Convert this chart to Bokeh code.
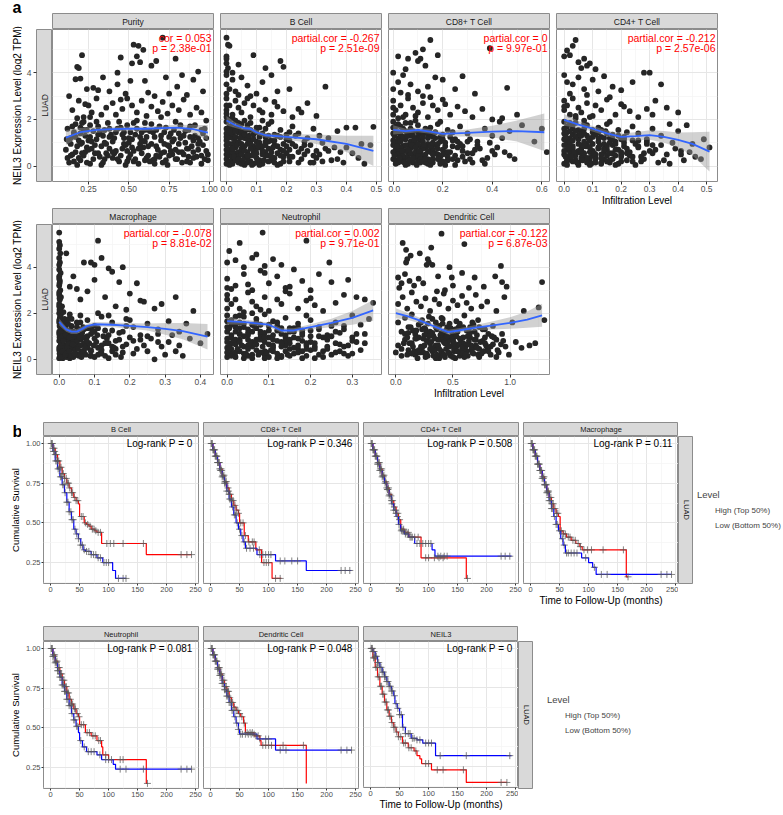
import math
from bokeh.plotting import figure
from bokeh.layouts import row, column
from bokeh.models import (Range1d, LinearAxis, FixedTicker, PrintfTickFormatter,
                          Grid, Legend, LegendItem)
from bokeh.core.properties import value
from bokeh.embed import file_html
from bokeh.resources import INLINE

FONT = "Liberation Sans"
STRIP_FILL = "#d9d9d9"
BORDER = "#8c8c8c"
STRIP_TXT = "#1a1a1a"
RED = "#FF0000"
BLUE = "#0000FF"

Y_TITLE_A = "NEIL3 Expression Level (log2 TPM)"
X_TITLE_A = "Infiltration Level"
Y_TITLE_B = "Cumulative Survival"
X_TITLE_B = "Time to Follow-Up (months)"

# ---------------- part a : scatter points (x, expression) ----------------
PURITY = [(0.71,5.50),(0.53,5.20),(0.56,5.15),(0.59,4.98),(0.21,4.75),(0.55,4.70),(0.45,4.65),(0.79,4.60),(0.67,4.50),(0.52,4.40),(0.57,4.45),(0.64,4.30),(0.18,4.25),(0.19,4.20),(0.93,4.05),
(0.43,4.00),(0.83,3.90),(0.34,3.80),(0.73,3.80),(0.20,3.75),(0.17,3.72),(0.90,3.70),(0.51,3.65),(0.60,3.65),(0.43,3.50),(0.28,3.35),(0.24,3.30),(0.38,3.20),(0.62,3.15),(0.75,3.10),(0.86,3.05),(0.96,3.20),(0.13,3.00),(0.48,3.10),(0.66,3.00),(0.31,3.25),(0.80,3.40),
(0.15,2.40),(0.19,2.80),(0.22,2.10),(0.25,2.60),(0.27,2.30),(0.30,2.90),(0.33,2.20),(0.36,2.50),(0.40,2.70),(0.42,2.20),(0.46,2.45),(0.49,2.90),(0.52,2.60),(0.55,2.30),(0.58,2.80),(0.61,2.15),(0.64,2.55),(0.68,2.35),(0.71,2.75),(0.74,2.25),(0.77,2.60),(0.81,2.40),(0.84,2.85),(0.88,2.20),(0.92,2.50),(0.95,2.30),(0.18,2.05),(0.23,2.65),(0.45,2.85),(0.70,2.10),
(0.12,1.60),(0.14,1.20),(0.17,1.80),(0.20,1.40),(0.22,1.90),(0.25,1.10),(0.28,1.50),(0.31,1.70),(0.34,1.30),(0.37,1.85),(0.40,1.05),(0.43,1.60),(0.46,1.35),(0.49,1.75),(0.52,1.15),(0.55,1.95),(0.58,1.45),(0.61,1.25),(0.64,1.80),(0.67,1.55),(0.70,1.10),(0.73,1.65),(0.76,1.40),(0.79,1.90),(0.82,1.20),(0.85,1.50),(0.88,1.70),(0.91,1.30),(0.94,1.05),(0.98,1.95),(0.16,1.45),(0.21,1.00),(0.26,1.75),(0.50,1.20),(0.60,1.55),
(0.11,0.70),(0.13,0.15),(0.15,0.50),(0.18,0.85),(0.20,0.25),(0.23,0.60),(0.26,0.10),(0.29,0.90),(0.32,0.40),(0.35,0.30),(0.38,0.75),(0.41,0.55),(0.44,0.20),(0.47,0.95),(0.50,0.35),(0.53,0.65),(0.56,0.10),(0.59,0.80),(0.62,0.45),(0.65,0.25),(0.68,0.70),(0.71,0.15),(0.74,0.90),(0.77,0.50),(0.80,0.30),(0.83,0.60),(0.86,0.20),(0.89,0.85),(0.92,0.40),(0.95,0.10),(0.98,0.65),(0.19,0.35),(0.24,0.80),(0.36,0.55),(0.48,0.05),(0.57,0.95),(0.66,0.30),(0.75,0.45),(0.87,0.75),(0.99,0.25),
(0.14,0.95),(0.17,1.25),(0.21,0.55),(0.24,1.55),(0.27,0.75),(0.30,1.15),(0.33,0.85),(0.39,1.35),(0.42,0.65),(0.45,1.65),(0.48,0.90),(0.51,0.50),(0.54,1.35),(0.57,0.75),(0.60,1.05),(0.63,0.20),(0.66,1.25),(0.69,0.40),(0.72,1.45),(0.75,0.85),(0.78,1.15),(0.81,0.60),(0.84,1.30),(0.87,0.40),(0.90,1.10),(0.93,0.70),(0.96,1.40),(0.20,1.65),(0.35,1.55),(0.53,1.85)]
PURITY_B = [(0.12,0.35),(0.13,1.05),(0.15,1.70),(0.16,0.20),(0.17,0.60),(0.19,1.10),(0.21,1.85),(0.22,0.45),(0.23,1.30),(0.25,0.70),(0.26,2.10),(0.27,1.05),(0.28,0.30),(0.30,1.90),(0.31,0.55),(0.32,1.45),(0.34,0.15),(0.35,1.00),(0.37,0.45),(0.38,1.60),(0.40,0.60),(0.41,1.20),(0.43,0.30),(0.44,1.90),(0.46,0.75),(0.47,1.45),(0.49,0.20),(0.50,1.00),(0.52,0.80),(0.54,0.30),(0.55,1.60),(0.57,1.25),(0.58,0.55),(0.60,1.85),(0.61,0.35),(0.63,1.50),(0.64,0.95),(0.66,0.10),(0.67,0.85),(0.69,1.70),(0.70,0.55),(0.72,0.95),(0.73,0.25),(0.75,1.25),(0.76,0.65),(0.78,1.55),(0.79,0.30),(0.81,0.95),(0.82,1.75),(0.84,0.50),(0.85,1.00),(0.87,1.55),(0.88,0.15),(0.90,0.60),(0.91,1.75),(0.93,1.20),(0.95,0.45),(0.96,0.90),(0.97,1.60),(0.99,0.50)]
PURITY_C = [(0.115,1.15),(0.14,0.45),(0.16,1.35),(0.18,0.05),(0.20,0.95),(0.22,1.55),(0.24,0.15),(0.26,1.25),(0.29,0.55),(0.31,1.35),(0.33,0.05),(0.36,0.95),(0.38,1.25),(0.40,0.35),(0.42,1.45),(0.45,0.45),(0.47,1.20),(0.49,0.65),(0.51,1.45),(0.53,0.20),(0.56,0.75),(0.58,1.10),(0.60,0.25),(0.62,0.85),(0.65,1.45),(0.67,0.45),(0.70,1.30),(0.72,0.60),(0.74,0.05),(0.77,1.05),(0.79,0.70),(0.81,1.40),(0.83,0.15),(0.86,0.75),(0.88,1.25),(0.90,0.35),(0.93,0.95),(0.95,1.55),(0.97,0.30),(0.98,1.20)]

BCELL = [(0.000,5.50),(0.005,5.20),(0.010,5.15),(0.000,4.70),(0.040,4.35),(0.090,4.75),(0.130,4.20),(0.180,4.50),(0.020,4.00),(0.000,4.40),(0.005,4.20),(0.000,4.60),(0.000,4.05),(0.190,4.25),
(0.000,3.90),(0.000,3.50),(0.010,3.30),(0.020,3.70),(0.030,3.20),(0.050,3.80),(0.070,3.45),(0.100,3.10),(0.120,3.60),(0.150,3.90),(0.170,3.20),(0.210,3.30),(0.330,3.40),(0.040,3.05),(0.080,3.00),(0.000,3.10),
(0.00,2.90),(0.00,2.40),(0.01,2.60),(0.02,2.20),(0.03,2.80),(0.04,2.50),(0.05,2.30),(0.06,2.70),(0.08,2.10),(0.09,2.60),(0.11,2.40),(0.13,2.85),(0.15,2.20),(0.17,2.55),(0.19,2.35),(0.22,2.10),(0.24,2.45),(0.27,2.70),(0.30,2.15),(0.02,2.05),(0.07,2.90),(0.12,2.30),(0.16,2.75),(0.25,2.30),(0.00,2.10),
(0.00,1.90),(0.00,1.40),(0.01,1.70),(0.02,1.20),(0.03,1.60),(0.04,1.85),(0.05,1.30),(0.06,1.50),(0.07,1.75),(0.08,1.10),(0.10,1.45),(0.11,1.65),(0.13,1.25),(0.14,1.80),(0.16,1.35),(0.18,1.55),(0.20,1.15),(0.22,1.70),(0.24,1.40),(0.26,1.05),(0.29,1.60),(0.31,1.30),(0.34,1.20),(0.37,1.50),(0.40,1.65),(0.43,1.65),(0.49,1.68),(0.00,1.10),(0.03,1.95),(0.09,1.35),(0.15,1.90),(0.21,1.45),
(0.00,0.90),(0.00,0.50),(0.00,0.10),(0.01,0.70),(0.02,0.30),(0.02,0.85),(0.03,0.55),(0.04,0.15),(0.05,0.75),(0.06,0.40),(0.07,0.95),(0.08,0.20),(0.09,0.65),(0.10,0.35),(0.11,0.80),(0.12,0.10),(0.13,0.60),(0.14,0.45),(0.15,0.25),(0.16,0.90),(0.17,0.05),(0.18,0.70),(0.19,0.40),(0.20,0.55),(0.21,0.20),(0.23,0.85),(0.25,0.30),(0.27,0.65),(0.29,0.15),(0.31,0.50),(0.33,0.75),(0.35,0.25),(0.38,0.60),(0.40,0.80),(0.44,0.35),(0.46,0.10),(0.48,0.90),(0.01,0.20),(0.04,0.60),(0.06,0.05),(0.10,0.75),(0.13,0.45),
(0.01,1.35),(0.02,0.95),(0.03,1.05),(0.04,1.45),(0.05,0.65),(0.06,1.20),(0.07,0.35),(0.08,1.55),(0.09,0.85),(0.10,1.05),(0.11,0.25),(0.12,1.40),(0.14,0.75),(0.15,1.10),(0.17,0.55),(0.18,1.25),(0.19,0.95),(0.21,0.70),(0.23,1.30),(0.26,0.50),(0.28,0.90),(0.30,0.35),(0.32,1.00),(0.36,0.80),(0.39,0.15),(0.42,0.55),(0.45,0.95),(0.05,1.80),(0.12,1.95),(0.02,1.55)]
BCELL_B = [(0.00,0.30),(0.00,0.70),(0.00,1.25),(0.00,1.60),(0.00,2.25),(0.00,2.60),(0.01,0.45),(0.01,0.95),(0.01,1.50),(0.01,2.00),(0.02,0.10),(0.02,0.60),(0.02,1.40),(0.02,1.80),(0.03,0.25),(0.03,0.80),(0.03,1.25),(0.04,0.40),(0.04,1.00),(0.04,1.65),(0.05,0.10),(0.05,0.50),(0.05,1.50),(0.06,0.85),(0.06,1.35),(0.06,1.95),(0.07,0.15),(0.07,0.60),(0.07,1.15),(0.08,0.45),(0.08,0.95),(0.08,1.85),(0.09,0.10),(0.09,1.15),(0.10,0.55),(0.10,1.65),(0.11,0.05),(0.11,1.00),(0.12,0.50),(0.12,0.85),(0.13,1.05),(0.13,1.60),(0.14,0.20),(0.14,1.30),(0.15,0.60),(0.16,0.35),(0.16,1.10),(0.17,0.85),(0.18,0.10),(0.19,0.65),(0.20,1.35),(0.21,0.40),(0.22,0.95),(0.24,0.15),(0.25,0.75),(0.27,1.20),(0.29,0.45),(0.32,0.20),(0.34,0.65),(0.37,0.30)]
BCELL_C = [(0.005,0.60),(0.005,1.20),(0.010,0.05),(0.015,1.45),(0.020,0.75),(0.025,0.40),(0.030,1.50),(0.035,0.90),(0.040,0.30),(0.045,1.20),(0.050,0.95),(0.055,0.25),(0.060,0.65),(0.065,1.55),(0.070,0.45),(0.075,1.30),(0.080,0.75),(0.085,0.05),(0.090,0.45),(0.095,1.45),(0.100,0.15),(0.105,0.85),(0.110,1.25),(0.120,0.65),(0.125,0.25),(0.130,0.90),(0.140,1.05),(0.150,0.40),(0.155,0.80),(0.160,0.15),(0.170,1.30),(0.180,0.45),(0.190,0.20),(0.200,0.85),(0.210,1.10),(0.220,0.40),(0.240,0.60),(0.260,0.90),(0.280,0.15),(0.300,0.65)]

CD8 = [(0.15,5.40),(0.12,5.00),(0.39,5.05),(0.09,4.85),(0.18,4.75),(0.02,4.70),(0.06,4.60),(0.11,4.60),(0.10,4.50),(0.13,4.30),(0.05,4.15),
(0.00,4.00),(0.02,3.60),(0.04,3.90),(0.07,3.50),(0.10,3.20),(0.14,3.40),(0.17,3.80),(0.20,3.70),(0.25,3.30),(0.28,3.85),(0.33,3.10),(0.46,3.35),(0.06,3.05),(0.12,3.00),(0.00,3.30),(0.03,3.15),
(0.00,2.80),(0.01,2.40),(0.03,2.60),(0.05,2.20),(0.06,2.90),(0.08,2.50),(0.10,2.30),(0.12,2.70),(0.14,2.10),(0.16,2.60),(0.18,2.40),(0.20,2.85),(0.23,2.20),(0.26,2.55),(0.29,2.35),(0.32,2.10),(0.36,2.45),(0.40,2.00),(0.44,2.05),(0.50,2.20),(0.02,2.05),(0.09,2.15),(0.15,2.95),(0.21,2.65),(0.00,2.20),
(0.00,1.90),(0.00,1.40),(0.01,1.70),(0.02,1.20),(0.04,1.60),(0.05,1.85),(0.07,1.30),(0.08,1.50),(0.10,1.75),(0.11,1.10),(0.13,1.45),(0.15,1.65),(0.16,1.25),(0.18,1.80),(0.20,1.35),(0.22,1.55),(0.25,1.15),(0.27,1.70),(0.30,1.40),(0.34,1.05),(0.37,1.60),(0.40,1.30),(0.43,1.90),(0.47,1.50),(0.52,1.75),(0.57,1.05),(0.60,1.60),(0.03,1.10),(0.09,1.95),(0.14,1.35),(0.19,1.90),(0.24,1.45),
(0.00,0.90),(0.00,0.30),(0.01,0.70),(0.02,0.15),(0.03,0.55),(0.04,0.85),(0.05,0.35),(0.06,0.10),(0.07,0.75),(0.08,0.45),(0.09,0.95),(0.10,0.20),(0.11,0.65),(0.12,0.40),(0.13,0.80),(0.14,0.10),(0.15,0.60),(0.16,0.30),(0.17,0.90),(0.18,0.50),(0.19,0.20),(0.20,0.70),(0.21,0.05),(0.22,0.40),(0.24,0.85),(0.26,0.25),(0.28,0.65),(0.30,0.55),(0.32,0.15),(0.35,0.75),(0.38,0.35),(0.42,0.80),(0.45,0.60),(0.47,0.45),(0.62,0.60),(0.03,0.50),(0.07,0.25),(0.11,0.85),(0.15,0.05),(0.19,0.40),
(0.01,1.05),(0.02,0.65),(0.03,1.35),(0.04,0.25),(0.05,1.15),(0.06,0.55),(0.07,1.60),(0.08,0.85),(0.09,0.35),(0.10,1.25),(0.11,0.50),(0.12,1.45),(0.13,0.15),(0.14,0.95),(0.16,0.70),(0.17,1.20),(0.18,0.30),(0.19,1.05),(0.21,0.60),(0.23,1.25),(0.25,0.45),(0.27,0.95),(0.29,0.20),(0.31,1.15),(0.33,0.70),(0.36,0.25),(0.39,1.00),(0.41,0.50),(0.44,1.20),(0.49,0.30)]
CD8_B = [(0.00,0.60),(0.00,1.10),(0.00,1.65),(0.00,2.50),(0.01,0.25),(0.01,0.95),(0.01,1.45),(0.02,0.50),(0.02,1.00),(0.02,1.80),(0.03,0.20),(0.03,0.80),(0.03,1.70),(0.04,0.45),(0.04,1.25),(0.04,2.10),(0.05,0.05),(0.05,0.65),(0.05,1.50),(0.06,0.35),(0.06,0.90),(0.06,1.30),(0.07,0.55),(0.07,1.05),(0.07,1.85),(0.08,0.15),(0.08,1.30),(0.09,0.60),(0.09,1.15),(0.10,0.45),(0.10,0.95),(0.11,0.30),(0.11,1.40),(0.12,0.75),(0.12,1.05),(0.13,0.50),(0.13,1.60),(0.14,0.30),(0.14,1.20),(0.15,0.85),(0.15,1.40),(0.16,0.15),(0.16,1.00),(0.17,0.55),(0.18,0.95),(0.19,0.10),(0.20,0.50),(0.20,1.15),(0.21,0.85),(0.22,0.25),(0.23,0.60),(0.24,1.10),(0.25,0.05),(0.26,0.80),(0.28,0.40),(0.30,1.05),(0.32,0.55),(0.34,0.90),(0.37,0.10),(0.40,0.65)]
CD8_C = [(0.005,0.45),(0.005,1.30),(0.010,0.10),(0.015,0.85),(0.020,1.45),(0.025,0.35),(0.030,1.05),(0.035,0.65),(0.040,1.55),(0.045,0.15),(0.050,0.90),(0.055,1.30),(0.060,0.70),(0.065,0.25),(0.070,1.45),(0.075,0.90),(0.080,0.35),(0.085,1.15),(0.090,0.80),(0.095,0.05),(0.100,1.45),(0.105,0.65),(0.110,0.15),(0.120,1.25),(0.125,0.90),(0.130,0.30),(0.140,0.65),(0.145,1.50),(0.150,0.25),(0.160,0.50),(0.170,1.45),(0.180,0.75),(0.190,1.25),(0.200,0.20),(0.210,1.00),(0.220,0.60),(0.240,0.30),(0.260,1.05),(0.280,0.85),(0.310,0.30)]

CD4 = [(0.04,5.40),(0.03,5.15),(0.01,4.95),(0.00,4.70),(0.02,4.75),(0.07,4.60),(0.05,4.45),(0.09,4.40),(0.08,4.30),(0.06,4.20),(0.11,4.15),
(0.00,3.90),(0.01,3.60),(0.03,3.50),(0.05,3.80),(0.07,3.30),(0.10,3.70),(0.12,3.20),(0.14,3.85),(0.17,3.40),(0.20,3.25),(0.24,3.60),(0.28,4.00),(0.30,4.00),(0.34,3.50),(0.02,3.10),(0.08,3.05),
(0.00,2.80),(0.00,2.40),(0.01,2.60),(0.02,2.20),(0.03,2.90),(0.05,2.50),(0.06,2.30),(0.08,2.70),(0.09,2.10),(0.11,2.60),(0.13,2.40),(0.15,2.85),(0.18,2.20),(0.21,2.55),(0.23,2.35),(0.26,2.10),(0.29,2.45),(0.32,2.80),(0.36,2.50),(0.40,2.30),(0.04,2.05),(0.10,2.15),(0.16,2.95),(0.20,2.65),(0.31,2.20),
(0.00,1.90),(0.00,1.40),(0.01,1.70),(0.02,1.20),(0.03,1.60),(0.04,1.85),(0.05,1.30),(0.06,1.50),(0.08,1.75),(0.09,1.10),(0.10,1.45),(0.12,1.65),(0.13,1.25),(0.15,1.80),(0.17,1.35),(0.19,1.55),(0.21,1.15),(0.24,1.70),(0.26,1.40),(0.29,1.05),(0.31,1.60),(0.34,1.30),(0.37,1.80),(0.40,1.50),(0.43,1.75),(0.49,1.15),(0.51,0.80),(0.02,1.10),(0.07,1.95),(0.11,1.35),(0.16,1.90),(0.22,1.45),
(0.00,0.90),(0.00,0.50),(0.00,0.10),(0.01,0.70),(0.02,0.30),(0.03,0.85),(0.04,0.55),(0.05,0.15),(0.06,0.75),(0.07,0.40),(0.08,0.95),(0.09,0.20),(0.10,0.65),(0.11,0.35),(0.12,0.80),(0.13,0.10),(0.14,0.60),(0.15,0.45),(0.16,0.25),(0.17,0.90),(0.18,0.05),(0.19,0.70),(0.20,0.40),(0.22,0.55),(0.24,0.20),(0.26,0.85),(0.28,0.30),(0.30,0.65),(0.33,0.15),(0.36,0.50),(0.39,0.75),(0.42,0.25),(0.44,0.60),(0.46,0.40),(0.01,0.20),(0.05,0.60),(0.09,0.05),(0.14,0.75),(0.18,0.45),
(0.01,1.05),(0.02,0.65),(0.03,1.35),(0.04,0.25),(0.05,1.15),(0.06,0.55),(0.07,1.60),(0.08,0.85),(0.09,0.35),(0.10,1.25),(0.11,0.50),(0.12,1.45),(0.13,0.15),(0.14,0.95),(0.15,0.70),(0.16,1.20),(0.17,0.30),(0.18,1.05),(0.20,0.60),(0.21,1.25),(0.23,0.45),(0.25,0.95),(0.27,0.20),(0.29,1.15),(0.32,0.70),(0.35,0.25),(0.38,1.00),(0.41,0.50),(0.45,0.95),(0.48,0.30)]
CD4_B = [(0.00,0.65),(0.00,1.15),(0.00,1.60),(0.00,2.55),(0.01,0.25),(0.01,0.95),(0.01,1.45),(0.02,0.50),(0.02,1.00),(0.02,1.85),(0.03,0.20),(0.03,0.75),(0.03,1.75),(0.04,0.45),(0.04,1.25),(0.04,2.15),(0.05,0.05),(0.05,0.65),(0.05,1.55),(0.06,0.35),(0.06,0.90),(0.06,1.30),(0.07,0.55),(0.07,1.05),(0.07,1.80),(0.08,0.15),(0.08,1.30),(0.09,0.60),(0.09,1.15),(0.10,0.45),(0.10,0.95),(0.11,0.30),(0.11,1.40),(0.12,0.75),(0.12,1.05),(0.13,0.50),(0.13,1.55),(0.14,0.30),(0.14,1.20),(0.15,0.85),(0.15,1.40),(0.16,0.15),(0.16,1.00),(0.17,0.55),(0.18,0.95),(0.19,0.10),(0.20,0.50),(0.20,1.15),(0.21,0.85),(0.22,0.25),(0.23,0.60),(0.24,1.10),(0.25,0.05),(0.26,0.80),(0.27,0.40),(0.29,0.95),(0.31,0.55),(0.34,0.90),(0.37,0.10),(0.41,0.65)]
CD4_C = [(0.005,0.40),(0.005,1.25),(0.010,0.05),(0.015,0.80),(0.020,1.50),(0.025,0.40),(0.030,1.10),(0.035,0.60),(0.040,1.50),(0.045,0.15),(0.050,0.95),(0.055,1.35),(0.060,0.65),(0.065,0.25),(0.070,1.40),(0.075,0.85),(0.080,0.35),(0.085,1.20),(0.090,0.80),(0.095,0.10),(0.100,1.55),(0.105,0.55),(0.110,0.15),(0.120,1.20),(0.125,0.90),(0.130,0.35),(0.140,0.70),(0.145,1.50),(0.150,0.20),(0.160,0.55),(0.170,1.15),(0.180,0.70),(0.190,1.30),(0.200,0.20),(0.210,1.00),(0.220,0.75),(0.240,0.40),(0.260,1.10),(0.280,0.55),(0.310,0.90)]

MACRO = [(0.000,5.50),(0.000,5.10),(0.002,4.95),(0.000,4.80),(0.003,4.60),(0.000,4.40),(0.002,4.20),(0.000,3.90),(0.004,3.75),(0.000,3.60),(0.002,3.40),(0.000,3.20),(0.003,3.00),(0.000,2.80),(0.002,2.60),(0.000,2.40),(0.004,2.20),(0.000,2.00),(0.002,1.80),(0.000,1.60),(0.003,1.40),(0.000,1.20),(0.002,1.00),(0.000,0.80),(0.004,0.60),(0.000,0.40),(0.002,0.20),(0.000,0.05),
(0.11,5.15),(0.02,4.60),(0.07,4.20),(0.09,4.20),(0.10,4.10),(0.12,4.40),(0.14,3.95),(0.15,3.80),(0.18,4.00),(0.04,3.60),(0.03,3.15),(0.05,3.05),(0.17,3.35),(0.22,3.30),(0.10,3.45),(0.08,2.95),(0.06,2.60),(0.13,2.70),(0.20,2.85),(0.23,2.55),(0.24,2.50),(0.29,2.40),(0.33,2.70),(0.38,2.10),(0.27,2.20),(0.16,2.30),(0.19,2.15),(0.11,2.00),
(0.02,1.50),(0.03,1.80),(0.04,1.20),(0.05,1.60),(0.06,1.90),(0.07,1.30),(0.08,1.70),(0.09,1.10),(0.10,1.45),(0.12,1.85),(0.13,1.25),(0.15,1.60),(0.17,1.15),(0.19,1.75),(0.21,1.40),(0.23,1.05),(0.25,1.55),(0.28,1.30),(0.31,1.65),(0.34,1.20),(0.36,1.55),(0.42,1.10),(0.03,1.95),(0.06,1.05),(0.09,1.35),(0.14,1.90),(0.20,1.70),
(0.01,0.90),(0.01,0.30),(0.02,0.60),(0.02,0.10),(0.03,0.75),(0.04,0.45),(0.05,0.20),(0.06,0.85),(0.07,0.35),(0.08,0.60),(0.09,0.15),(0.10,0.90),(0.11,0.50),(0.12,0.25),(0.13,0.70),(0.14,0.05),(0.15,0.55),(0.16,0.80),(0.18,0.30),(0.20,0.95),(0.22,0.45),(0.24,0.60),(0.26,0.90),(0.27,0.00),(0.29,0.55),(0.31,0.75),(0.33,0.35),(0.35,0.15),(0.40,0.70),(0.03,0.05),(0.05,0.95),(0.08,0.50),(0.11,0.20),(0.15,0.35),(0.19,0.65),
(0.005,1.50),(0.006,0.90),(0.008,2.30),(0.005,0.30),(0.010,1.25),(0.010,0.65),(0.015,1.75),(0.020,0.85),(0.025,1.10),(0.030,0.40),(0.035,1.45),(0.040,0.80),(0.045,1.00),(0.050,0.55),(0.055,1.30),(0.060,0.25),(0.065,1.15),(0.070,0.70),(0.080,1.00),(0.090,0.40),(0.100,1.20),(0.120,0.60),(0.140,1.05),(0.160,0.45),(0.180,1.20),(0.210,0.80),(0.250,1.00),(0.280,0.75),(0.320,1.05),(0.370,0.90)]
MACRO_B = [(0.000,0.50),(0.000,1.10),(0.000,1.70),(0.000,2.30),(0.000,2.90),(0.000,3.50),(0.000,4.10),(0.005,0.15),(0.005,0.75),(0.005,1.35),(0.005,1.95),(0.005,2.70),(0.008,0.40),(0.008,1.05),(0.010,1.60),(0.010,0.05),(0.012,2.05),(0.015,0.55),(0.015,1.15),(0.020,0.30),(0.020,1.30),(0.025,0.65),(0.025,1.55),(0.030,0.20),(0.030,1.00),(0.035,0.55),(0.035,1.75),(0.040,0.10),(0.040,1.00),(0.045,0.40),(0.050,0.75),(0.050,1.40),(0.055,0.15),(0.060,0.60),(0.060,1.60),(0.065,0.35),(0.070,0.95),(0.075,0.20),(0.080,1.35),(0.085,0.70),(0.090,0.35),(0.095,1.20),(0.100,0.10),(0.105,0.75),(0.110,1.35),(0.120,0.40),(0.125,1.00),(0.130,0.15),(0.140,0.70),(0.150,1.25),(0.160,0.20),(0.170,0.85),(0.180,0.55),(0.190,1.45),(0.210,0.25),(0.230,0.85),(0.250,0.35),(0.280,1.10),(0.300,0.20),(0.340,0.60)]
MACRO_C = [(0.001,0.25),(0.001,0.95),(0.001,1.45),(0.001,2.15),(0.001,2.65),(0.001,3.30),(0.003,0.55),(0.003,1.15),(0.003,1.85),(0.006,0.10),(0.006,0.70),(0.006,1.40),(0.009,0.35),(0.009,1.00),(0.012,0.80),(0.012,1.45),(0.018,0.20),(0.018,1.05),(0.022,0.50),(0.022,1.70),(0.028,0.35),(0.028,0.95),(0.033,0.15),(0.033,1.25),(0.038,0.65),(0.043,0.25),(0.048,1.10),(0.053,0.45),(0.058,0.95),(0.063,0.10),(0.068,1.40),(0.073,0.50),(0.078,0.80),(0.088,0.15),(0.098,0.60),(0.108,1.05),(0.118,0.30),(0.135,0.90),(0.155,0.50),(0.175,0.10)]

NEUT = [(0.085,5.50),(0.19,5.15),(0.005,4.70),(0.03,5.05),(0.02,4.30),(0.06,4.40),(0.07,4.55),(0.11,4.35),(0.13,4.10),(0.245,4.20),(0.00,4.20),(0.04,4.00),(0.09,4.05),
(0.00,3.50),(0.02,3.20),(0.04,3.70),(0.06,3.00),(0.08,3.85),(0.10,3.30),(0.12,3.60),(0.14,3.10),(0.16,3.90),(0.18,3.40),(0.20,3.00),(0.22,3.70),(0.25,3.35),(0.29,3.45),(0.01,3.05),(0.05,3.25),(0.09,3.75),(0.15,3.15),
(0.00,2.80),(0.01,2.40),(0.02,2.60),(0.03,2.20),(0.05,2.90),(0.06,2.50),(0.07,2.30),(0.09,2.70),(0.10,2.10),(0.12,2.60),(0.13,2.40),(0.15,2.85),(0.17,2.20),(0.19,2.55),(0.21,2.35),(0.23,2.10),(0.26,2.45),(0.28,2.80),(0.31,2.70),(0.33,2.60),(0.04,2.05),(0.08,2.15),(0.14,2.95),(0.20,2.65),(0.35,2.45),
(0.00,1.90),(0.00,1.40),(0.01,1.70),(0.02,1.20),(0.03,1.60),(0.04,1.85),(0.05,1.30),(0.06,1.50),(0.07,1.75),(0.08,1.10),(0.10,1.45),(0.11,1.65),(0.12,1.25),(0.14,1.80),(0.15,1.35),(0.17,1.55),(0.18,1.15),(0.20,1.70),(0.22,1.40),(0.24,1.05),(0.26,1.60),(0.28,1.30),(0.30,1.90),(0.32,1.50),(0.34,1.75),(0.03,1.10),(0.09,1.95),(0.13,1.35),(0.19,1.90),(0.25,1.45),
(0.00,0.90),(0.00,0.50),(0.00,0.10),(0.01,0.70),(0.02,0.30),(0.03,0.85),(0.04,0.55),(0.05,0.15),(0.06,0.75),(0.07,0.40),(0.08,0.95),(0.09,0.20),(0.10,0.65),(0.11,0.35),(0.12,0.80),(0.13,0.10),(0.14,0.60),(0.15,0.45),(0.16,0.25),(0.17,0.90),(0.18,0.05),(0.19,0.70),(0.20,0.40),(0.21,0.55),(0.22,0.20),(0.24,0.85),(0.26,0.30),(0.27,0.65),(0.29,0.15),(0.31,0.75),(0.01,0.25),(0.05,0.60),(0.09,0.05),(0.13,0.75),(0.17,0.45),(0.23,0.35),
(0.01,1.05),(0.02,0.65),(0.03,1.35),(0.04,0.25),(0.05,1.15),(0.06,0.55),(0.07,1.60),(0.08,0.85),(0.09,0.35),(0.10,1.25),(0.11,0.50),(0.12,1.45),(0.13,0.15),(0.14,0.95),(0.15,0.70),(0.16,1.20),(0.17,0.30),(0.18,1.05),(0.19,0.60),(0.20,1.25),(0.21,0.45),(0.23,0.95),(0.25,0.20),(0.27,1.15),(0.28,0.55),(0.30,0.95),(0.32,0.40),(0.33,1.10),(0.02,1.85),(0.06,2.00)]
NEUT_B = [(0.00,0.30),(0.00,0.75),(0.00,1.20),(0.00,1.65),(0.00,2.20),(0.00,2.60),(0.00,3.10),(0.01,0.45),(0.01,0.95),(0.01,1.50),(0.02,0.10),(0.02,0.85),(0.02,1.40),(0.03,0.35),(0.03,0.75),(0.03,1.90),(0.04,0.05),(0.04,1.00),(0.04,1.55),(0.05,0.45),(0.05,0.85),(0.06,0.20),(0.06,1.20),(0.07,0.65),(0.07,1.35),(0.08,0.30),(0.08,1.50),(0.09,0.75),(0.09,1.15),(0.10,0.10),(0.10,0.95),(0.11,0.60),(0.11,1.05),(0.12,0.25),(0.12,1.60),(0.13,0.55),(0.13,1.10),(0.14,0.35),(0.14,0.80),(0.15,0.15),(0.15,1.20),(0.16,0.50),(0.16,0.95),(0.17,1.40),(0.18,0.35),(0.18,0.80),(0.19,0.15),(0.20,1.00),(0.21,0.70),(0.22,1.30),(0.23,0.10),(0.24,0.55),(0.25,1.00),(0.26,0.70),(0.27,0.35),(0.28,1.45),(0.29,0.60),(0.30,0.25),(0.31,1.10),(0.33,0.70)]
NEUT_C = [(0.005,0.55),(0.005,1.35),(0.010,0.15),(0.015,0.85),(0.020,1.55),(0.025,0.45),(0.030,1.10),(0.035,0.60),(0.040,1.40),(0.045,0.25),(0.050,1.05),(0.055,0.70),(0.060,0.05),(0.065,1.45),(0.070,0.85),(0.075,0.20),(0.080,1.20),(0.085,0.55),(0.090,0.95),(0.095,0.30),(0.100,1.50),(0.105,0.40),(0.110,0.85),(0.120,0.05),(0.125,1.30),(0.130,0.70),(0.140,1.05),(0.145,0.20),(0.150,0.85),(0.160,1.35),(0.170,0.60),(0.180,1.25),(0.190,0.45),(0.200,0.75),(0.210,0.05),(0.220,1.00),(0.240,0.45),(0.260,1.20),(0.280,0.25),(0.300,0.80)]

DEND = [(0.40,5.45),(0.06,5.05),(0.60,5.00),(0.31,4.85),(0.09,4.75),(0.13,4.50),(0.21,4.60),(0.10,4.35),(0.28,4.35),(0.27,4.10),(0.29,4.20),(0.32,4.10),(0.47,4.00),(0.92,4.05),(0.09,4.20),
(0.02,3.55),(0.05,3.30),(0.08,3.70),(0.12,3.40),(0.16,3.20),(0.20,3.50),(0.24,3.30),(0.37,3.60),(0.49,3.55),(0.50,3.20),(0.58,3.75),(0.69,3.55),(0.77,3.15),(0.87,3.60),(0.93,3.35),(1.28,3.35),(0.03,3.10),(0.43,3.00),(0.64,3.10),(0.97,3.15),
(0.02,2.40),(0.06,2.70),(0.10,2.20),(0.14,2.90),(0.18,2.50),(0.22,2.30),(0.26,2.65),(0.30,2.10),(0.34,2.60),(0.38,2.40),(0.42,2.85),(0.46,2.20),(0.50,2.55),(0.54,2.35),(0.58,2.75),(0.62,2.45),(0.66,2.20),(0.70,2.80),(0.75,2.30),(0.80,2.50),(0.88,2.10),(0.95,2.70),(1.12,2.10),(1.25,2.25),(0.36,2.95),
(0.02,1.60),(0.05,1.20),(0.08,1.80),(0.11,1.40),(0.14,1.95),(0.17,1.10),(0.20,1.50),(0.23,1.70),(0.26,1.30),(0.29,1.85),(0.32,1.15),(0.35,1.60),(0.38,1.45),(0.41,1.75),(0.44,1.25),(0.47,1.55),(0.50,1.05),(0.53,1.65),(0.56,1.35),(0.60,1.90),(0.64,1.20),(0.68,1.50),(0.72,1.70),(0.78,1.30),(0.85,1.45),(0.93,1.10),(1.02,1.60),(1.30,1.70),(0.15,1.25),(0.25,1.05),(0.40,1.80),(0.55,1.40),
(0.00,0.30),(0.02,0.60),(0.05,0.15),(0.08,0.85),(0.11,0.40),(0.14,0.70),(0.17,0.20),(0.20,0.95),(0.23,0.50),(0.26,0.10),(0.29,0.75),(0.32,0.35),(0.35,0.60),(0.38,0.05),(0.41,0.90),(0.44,0.45),(0.47,0.25),(0.50,0.80),(0.53,0.55),(0.56,0.15),(0.59,0.70),(0.62,0.35),(0.65,0.95),(0.68,0.50),(0.72,0.20),(0.76,0.80),(0.80,0.40),(0.85,0.65),(0.90,0.30),(0.96,0.55),(1.05,0.75),(1.17,0.60),(1.22,0.70),(0.30,0.45),(0.40,0.20),(0.50,0.65),(0.60,0.10),(0.70,0.85),
(0.10,0.95),(0.15,0.55),(0.18,1.25),(0.21,0.30),(0.24,0.90),(0.27,1.15),(0.30,0.70),(0.33,1.00),(0.36,0.20),(0.39,0.85),(0.42,1.10),(0.45,0.65),(0.48,0.95),(0.51,0.35),(0.54,1.20),(0.57,0.75),(0.60,0.45),(0.63,1.00),(0.66,0.60),(0.69,1.20),(0.73,0.45),(0.78,0.95),(0.83,0.20),(0.88,0.85),(0.28,1.55),(0.34,0.40),(0.46,0.80),(0.52,1.30),(0.58,0.25),(0.65,1.40)]
DEND_B = [(0.05,0.45),(0.08,1.10),(0.10,0.20),(0.12,0.70),(0.13,1.40),(0.16,0.35),(0.18,0.90),(0.19,0.05),(0.22,0.55),(0.22,1.60),(0.24,0.30),(0.25,1.35),(0.27,0.80),(0.28,0.15),(0.30,1.20),(0.31,0.50),(0.32,1.75),(0.34,0.90),(0.35,0.05),(0.36,1.30),(0.37,0.60),(0.39,1.05),(0.40,0.35),(0.41,1.55),(0.42,0.75),(0.43,0.10),(0.44,0.95),(0.45,1.40),(0.47,0.55),(0.48,0.15),(0.49,1.20),(0.50,0.85),(0.51,0.45),(0.52,0.05),(0.53,1.00),(0.55,0.65),(0.56,1.55),(0.57,0.30),(0.59,0.95),(0.61,0.55),(0.62,1.25),(0.63,0.15),(0.64,0.80),(0.66,0.40),(0.67,1.60),(0.68,0.25),(0.70,0.60),(0.71,1.05),(0.73,0.10),(0.74,0.75),(0.76,1.30),(0.77,0.35),(0.79,0.60),(0.81,1.10),(0.83,0.55),(0.86,0.95),(0.89,0.40),(0.94,0.80),(0.99,0.20),(1.10,0.50)]
DEND_C = [(0.07,0.70),(0.11,1.15),(0.14,0.25),(0.17,0.90),(0.20,0.40),(0.23,1.30),(0.25,0.60),(0.27,0.25),(0.29,1.00),(0.31,0.75),(0.33,0.15),(0.35,1.40),(0.37,0.85),(0.38,0.45),(0.40,1.15),(0.42,0.20),(0.43,0.70),(0.45,1.00),(0.46,0.30),(0.48,1.35),(0.50,0.10),(0.51,0.70),(0.53,1.30),(0.54,0.35),(0.56,0.90),(0.58,0.50),(0.59,1.40),(0.61,0.20),(0.63,0.65),(0.65,1.15),(0.67,0.30),(0.69,0.85),(0.71,0.50),(0.73,1.40),(0.75,0.25),(0.78,0.70),(0.81,0.35),(0.84,1.00),(0.88,0.10),(0.92,0.65)]

# loess fits: (x, fit, standard error)
PURITY_FIT = [(0.11,1.22,0.32),(0.20,1.45,0.18),(0.30,1.55,0.12),(0.40,1.58,0.11),(0.50,1.60,0.10),(0.60,1.60,0.10),(0.70,1.63,0.10),(0.80,1.65,0.12),(0.90,1.58,0.18),(0.99,1.43,0.33)]
BCELL_FIT = [(0.00,1.95,0.20),(0.03,1.75,0.12),(0.06,1.62,0.10),(0.08,1.60,0.10),(0.10,1.45,0.10),(0.13,1.32,0.10),(0.20,1.25,0.12),(0.30,1.15,0.20),(0.40,0.95,0.35),(0.49,0.65,0.65)]
CD8_FIT = [(0.00,1.55,0.20),(0.05,1.50,0.10),(0.10,1.55,0.10),(0.15,1.48,0.10),(0.20,1.38,0.12),(0.30,1.42,0.15),(0.40,1.48,0.25),(0.50,1.50,0.45),(0.61,1.45,0.80)]
CD4_FIT = [(0.00,1.98,0.25),(0.05,1.78,0.15),(0.10,1.60,0.12),(0.15,1.40,0.12),(0.20,1.25,0.15),(0.25,1.28,0.17),(0.30,1.33,0.20),(0.35,1.25,0.25),(0.40,1.12,0.32),(0.45,0.95,0.50),(0.51,0.62,0.85)]
MACRO_FIT = [(0.00,1.62,0.15),(0.01,1.45,0.12),(0.02,1.30,0.10),(0.035,1.20,0.10),(0.05,1.20,0.10),(0.065,1.32,0.10),(0.08,1.45,0.10),(0.10,1.52,0.10),(0.15,1.50,0.10),(0.20,1.45,0.12),(0.25,1.40,0.15),(0.30,1.32,0.25),(0.35,1.22,0.35),(0.42,0.98,0.55)]
NEUT_FIT = [(0.00,1.66,0.15),(0.05,1.60,0.10),(0.10,1.50,0.10),(0.13,1.25,0.10),(0.16,1.25,0.10),(0.20,1.40,0.12),(0.25,1.58,0.18),(0.30,1.80,0.30),(0.35,2.12,0.45)]
DEND_FIT = [(0.00,2.00,0.22),(0.10,1.87,0.15),(0.20,1.70,0.12),(0.30,1.50,0.10),(0.40,1.30,0.10),(0.46,1.18,0.10),(0.55,1.25,0.10),(0.70,1.37,0.12),(0.85,1.47,0.18),(1.00,1.58,0.25),(1.15,1.72,0.35),(1.28,1.91,0.50)]

SC_YR = (-0.66, 5.85)
SC_YTICKS = [0, 2, 4]

ROW_A1 = [
    dict(name="Purity", pts=PURITY + PURITY_B + PURITY_C, fit=PURITY_FIT, xr=(0.027, 1.025), ticks=[0.25, 0.50, 0.75, 1.00], fmt="%.2f", t1="cor = 0.053", t2="p = 2.38e-01"),
    dict(name="B Cell", pts=BCELL + BCELL_B + BCELL_C, fit=BCELL_FIT, xr=(-0.02, 0.517), ticks=[0.0, 0.1, 0.2, 0.3, 0.4, 0.5], fmt="%.1f", t1="partial.cor = -0.267", t2="p = 2.51e-09"),
    dict(name="CD8+ T Cell", pts=CD8 + CD8_B + CD8_C, fit=CD8_FIT, xr=(-0.019, 0.631), ticks=[0.0, 0.2, 0.4, 0.6], fmt="%.1f", t1="partial.cor = 0", t2="p = 9.97e-01"),
    dict(name="CD4+ T Cell", pts=CD4 + CD4_B + CD4_C, fit=CD4_FIT, xr=(-0.027, 0.538), ticks=[0.0, 0.1, 0.2, 0.3, 0.4, 0.5], fmt="%.1f", t1="partial.cor = -0.212", t2="p = 2.57e-06"),
]
ROW_A2 = [
    dict(name="Macrophage", pts=MACRO + MACRO_B + MACRO_C, fit=MACRO_FIT, xr=(-0.019, 0.437), ticks=[0.0, 0.1, 0.2, 0.3, 0.4], fmt="%.1f", t1="partial.cor = -0.078", t2="p = 8.81e-02"),
    dict(name="Neutrophil", pts=NEUT + NEUT_B + NEUT_C, fit=NEUT_FIT, xr=(-0.016, 0.370), ticks=[0.0, 0.1, 0.2, 0.3], fmt="%.1f", t1="partial.cor = 0.002", t2="p = 9.71e-01"),
    dict(name="Dendritic Cell", pts=DEND + DEND_B + DEND_C, fit=DEND_FIT, xr=(-0.064, 1.345), ticks=[0.0, 0.5, 1.0], fmt="%.1f", t1="partial.cor = -0.122", t2="p = 6.87e-03"),
]

# ---------------- part b : Kaplan-Meier steps (time, survival) and censor times ----------------
BC_HI = [(0,1.0),(4,0.97),(8,0.93),(12,0.89),(16,0.85),(20,0.81),(24,0.78),(28,0.75),(32,0.72),(36,0.69),(40,0.66),(44,0.64),(48,0.62),(50,0.54),(58,0.50),(62,0.49),(66,0.48),(70,0.46),(76,0.45),(80,0.44),(88,0.37),(165,0.30),(243,0.30)]
BC_LO = [(0,1.0),(4,0.95),(8,0.89),(12,0.84),(16,0.79),(20,0.74),(24,0.69),(28,0.63),(32,0.57),(36,0.52),(40,0.46),(44,0.43),(48,0.40),(52,0.36),(56,0.33),(60,0.32),(70,0.30),(80,0.28),(90,0.25),(107,0.20),(112,0.15),(130,0.15)]
BC_HI_C = [2,4,6,8,10,12,14,16,18,20,22,24,27,29,31,33,36,38,41,44,47,53,56,60,64,68,72,75,78,82,86,97,103,109,125,160,225,235,243]
BC_LO_C = [1,3,5,7,9,11,13,15,17,19,21,23,25,28,30,32,35,37,39,42,45,48,52,55,58,62,66,70,74,78,82,86,92,96,100,117,125,130]

C8_HI = [(0,1.0),(4,0.96),(8,0.92),(12,0.88),(16,0.84),(20,0.80),(24,0.76),(28,0.72),(32,0.68),(36,0.64),(40,0.61),(44,0.58),(48,0.56),(50,0.50),(58,0.42),(65,0.38),(78,0.33),(88,0.25),(106,0.15),(122,0.15)]
C8_LO = [(0,1.0),(4,0.96),(8,0.92),(12,0.88),(16,0.83),(20,0.79),(24,0.75),(28,0.70),(32,0.65),(36,0.60),(40,0.55),(44,0.50),(48,0.46),(52,0.42),(56,0.38),(60,0.34),(80,0.30),(112,0.26),(165,0.20),(243,0.20)]
C8_HI_C = [1,3,5,7,9,12,14,16,18,21,23,25,27,30,32,34,37,39,42,45,48,52,56,60,66,72,75,84,92,96,100,112,120]
C8_LO_C = [2,4,6,8,10,11,13,15,17,19,20,22,24,26,28,31,33,35,38,41,43,46,50,54,58,62,68,74,85,90,95,100,104,120,128,140,150,225,232,240]

C4_HI = [(0,1.0),(4,0.96),(8,0.92),(12,0.88),(16,0.84),(20,0.80),(24,0.76),(28,0.72),(32,0.68),(36,0.64),(40,0.60),(44,0.56),(48,0.52),(52,0.46),(58,0.44),(66,0.41),(87,0.28),(165,0.15),(167,0.15)]
C4_LO = [(0,1.0),(4,0.96),(8,0.92),(12,0.87),(16,0.83),(20,0.79),(24,0.75),(28,0.71),(32,0.67),(36,0.62),(40,0.58),(44,0.54),(48,0.49),(52,0.45),(58,0.43),(66,0.41),(76,0.37),(106,0.33),(111,0.29),(243,0.29)]
C4_HI_C = [1,3,5,7,9,11,13,15,17,19,21,23,26,28,31,33,36,38,41,44,47,50,54,57,61,65,70,76,82,95,100,110,118,125,167]
C4_LO_C = [2,4,6,8,10,12,14,16,18,20,22,25,27,29,30,32,35,37,40,43,46,49,53,56,60,64,68,72,80,85,90,95,100,104,116,121,127,132,225,232,240]

MC_HI = [(0,1.0),(4,0.96),(8,0.92),(12,0.87),(16,0.83),(20,0.79),(24,0.74),(28,0.70),(32,0.66),(36,0.62),(40,0.59),(44,0.56),(48,0.54),(51,0.45),(56,0.43),(62,0.41),(70,0.39),(78,0.37),(85,0.35),(89,0.33),(165,0.16),(168,0.16)]
MC_LO = [(0,1.0),(4,0.96),(8,0.92),(12,0.87),(16,0.83),(20,0.78),(24,0.74),(28,0.69),(32,0.64),(36,0.59),(40,0.54),(44,0.49),(48,0.45),(52,0.40),(56,0.36),(60,0.31),(85,0.31),(88,0.28),(100,0.25),(107,0.22),(113,0.175),(243,0.175)]
MC_HI_C = [1,3,5,7,9,11,13,15,17,19,21,23,25,27,29,31,33,35,37,39,42,45,47,53,57,60,65,68,73,77,82,86,92,98,105,125,160,168]
MC_LO_C = [2,4,6,8,10,12,14,16,18,20,22,24,26,28,30,32,34,36,38,41,44,46,50,55,58,62,65,70,75,80,95,110,122,132,225,235,243]

NE_HI = [(0,1.0),(4,0.96),(8,0.92),(12,0.88),(16,0.84),(20,0.80),(24,0.76),(28,0.72),(32,0.68),(36,0.65),(40,0.62),(44,0.59),(48,0.57),(50,0.52),(60,0.47),(70,0.45),(80,0.42),(88,0.38),(90,0.33),(100,0.30),(165,0.15),(167,0.15)]
NE_LO = [(0,1.0),(4,0.95),(8,0.91),(12,0.86),(16,0.82),(20,0.77),(24,0.73),(28,0.68),(32,0.64),(36,0.59),(40,0.55),(44,0.51),(48,0.47),(50,0.42),(55,0.38),(62,0.35),(80,0.33),(88,0.30),(108,0.27),(112,0.24),(243,0.24)]
NE_HI_C = [1,3,5,7,9,11,13,15,17,19,21,23,25,27,29,31,34,36,38,41,43,46,49,53,57,63,67,73,77,83,86,95,105,120,125,167]
NE_LO_C = [2,4,6,8,10,12,14,16,18,20,22,24,26,28,30,32,35,37,40,42,45,47,52,58,65,70,75,85,95,100,120,130,160,225,235,243]

DC_HI = [(0,1.0),(4,0.96),(8,0.92),(12,0.88),(16,0.84),(20,0.80),(24,0.76),(28,0.73),(32,0.69),(36,0.66),(40,0.63),(44,0.61),(48,0.59),(52,0.57),(57,0.53),(60,0.47),(75,0.45),(85,0.42),(87,0.39),(165,0.15)]
DC_LO = [(0,1.0),(4,0.96),(8,0.92),(12,0.87),(16,0.83),(20,0.78),(24,0.74),(28,0.70),(32,0.66),(36,0.61),(40,0.57),(44,0.53),(48,0.49),(50,0.46),(80,0.43),(112,0.36),(243,0.36)]
DC_HI_C = [1,3,5,7,9,11,13,15,17,19,21,23,25,27,29,31,33,36,38,41,44,47,50,54,58,63,68,72,78,82,90,95,100,105,125,160]
DC_LO_C = [2,4,6,8,10,12,14,16,18,20,22,24,26,28,30,32,34,37,39,42,45,48,52,55,60,65,70,75,85,95,100,120,130,225,235,243]

NI_HI = [(0,1.0),(4,0.94),(8,0.88),(12,0.82),(16,0.76),(20,0.71),(24,0.66),(28,0.61),(32,0.57),(36,0.53),(40,0.50),(44,0.47),(48,0.44),(55,0.40),(65,0.37),(75,0.35),(80,0.32),(85,0.30),(88,0.27),(105,0.23),(165,0.15),(235,0.15)]
NI_LO = [(0,1.0),(4,0.98),(8,0.95),(12,0.91),(16,0.88),(20,0.85),(24,0.82),(28,0.79),(32,0.76),(36,0.73),(40,0.70),(42,0.65),(46,0.62),(50,0.58),(55,0.50),(60,0.46),(70,0.43),(80,0.42),(90,0.40),(112,0.32),(243,0.32)]
NI_HI_C = [1,3,5,7,9,11,13,15,17,19,21,23,25,27,29,31,33,35,37,40,42,45,48,52,57,60,66,70,78,95,100,115,125,160,225,235]
NI_LO_C = [2,4,6,8,10,12,14,16,18,20,22,24,26,28,30,32,34,36,38,41,44,47,50,53,56,60,65,68,72,75,80,85,95,100,105,120,165,240]

ROW_B1 = [
    dict(name="B Cell", hi=BC_HI, lo=BC_LO, hic=BC_HI_C, loc=BC_LO_C, p="Log-rank P = 0"),
    dict(name="CD8+ T Cell", hi=C8_HI, lo=C8_LO, hic=C8_HI_C, loc=C8_LO_C, p="Log-rank P = 0.346"),
    dict(name="CD4+ T Cell", hi=C4_HI, lo=C4_LO, hic=C4_HI_C, loc=C4_LO_C, p="Log-rank P = 0.508"),
    dict(name="Macrophage", hi=MC_HI, lo=MC_LO, hic=MC_HI_C, loc=MC_LO_C, p="Log-rank P = 0.11"),
]
ROW_B2 = [
    dict(name="Neutrophil", hi=NE_HI, lo=NE_LO, hic=NE_HI_C, loc=NE_LO_C, p="Log-rank P = 0.081"),
    dict(name="Dendritic Cell", hi=DC_HI, lo=DC_LO, hic=DC_HI_C, loc=DC_LO_C, p="Log-rank P = 0.048"),
    dict(name="NEIL3", hi=NI_HI, lo=NI_LO, hic=NI_HI_C, loc=NI_LO_C, p="Log-rank P = 0"),
]
KM_XR = (-12.2, 255.0)
KM_YR = (0.118, 1.044)
KM_XTICKS = [0, 50, 100, 150, 200, 250]
KM_YTICKS = [0.25, 0.50, 0.75, 1.00]
LEVELS = ["High (Top 50%)", "Low (Bottom 50%)"]


# ---------------- helpers ----------------
def bare(w, h, xr, yr, ml=0, mr=0, mt=0, mb=0):
    p = figure(width=w, height=h, x_range=xr, y_range=yr,
               x_axis_type=None, y_axis_type=None,
               output_backend="svg", toolbar_location=None,
               min_border_left=ml, min_border_right=mr,
               min_border_top=mt, min_border_bottom=mb)
    p.outline_line_color = None
    p.background_fill_color = "white"
    p.border_fill_color = "white"
    return p


def txt(p, x, y, s, size, color="#000000", align="center", baseline="middle",
        angle=0.0, style="normal", xo=0, yo=0):
    p.text(x=[x], y=[y], text=[s], text_font=value(FONT), text_font_size=value(size),
           text_color=color, text_align=align, text_baseline=baseline, angle=angle,
           text_font_style=style, x_offset=xo, y_offset=yo)


def minors(ticks, lo, hi):
    step = ticks[1] - ticks[0]
    cands = [ticks[0] - step / 2] + [t + step / 2 for t in ticks]
    return [m for m in cands if lo < m < hi]


def add_grid(p, dim, ticks, rng):
    p.add_layout(Grid(dimension=dim,
                      ticker=FixedTicker(ticks=ticks, minor_ticks=minors(ticks, *rng)),
                      grid_line_color="#e6e6e6", grid_line_width=1,
                      minor_grid_line_color="#f3f3f3", minor_grid_line_width=0.7))


def add_axis(p, side, ticks, fmt, size, tick_out, standoff, label=None):
    ax = LinearAxis(ticker=FixedTicker(ticks=ticks), formatter=PrintfTickFormatter(format=fmt))
    ax.axis_line_color = None
    ax.major_tick_line_color = "#333333"
    ax.major_tick_out = tick_out
    ax.major_tick_in = 0
    ax.minor_tick_line_color = None
    ax.major_label_text_font = FONT
    ax.major_label_text_font_size = size
    ax.major_label_text_color = "#4d4d4d"
    ax.major_label_standoff = standoff
    if label:
        ax.axis_label = label
        ax.axis_label_text_font = FONT
        ax.axis_label_text_font_size = "10px"
        ax.axis_label_text_font_style = "normal"
        ax.axis_label_text_color = "#000000"
        ax.axis_label_standoff = 0
    p.add_layout(ax, side)


def panel_pair(ml, fw, mr, st, sh, fh, bot, xr, yr, name, font):
    w = ml + fw + mr
    strip = bare(w, st + sh, Range1d(0, 1), Range1d(0, 1), ml=ml, mr=mr, mt=st)
    strip.background_fill_color = STRIP_FILL
    strip.outline_line_color = BORDER
    txt(strip, 0.5, 0.5, name, font, color=STRIP_TXT)
    p = bare(w, fh + bot, Range1d(*xr), Range1d(*yr), ml=ml, mr=mr, mb=bot)
    p.outline_line_color = BORDER
    return strip, p


def side_fig(w, st, sh, fh, bot, ytitle, ysize, xc, letter, letter_x, letter_cy):
    # whole-canvas frame in pixel-like units (wrapped in its own column so that
    # its frame is not lined up with the neighbouring panels)
    H = st + sh + fh + bot
    s = bare(w, H, Range1d(0, w), Range1d(0, H))
    txt(s, xc, H - (st + sh + fh / 2), ytitle, ysize, angle=math.pi / 2)
    if letter:
        txt(s, letter_x, H - letter_cy, letter, "16px", align="left", style="bold")
    return column(s)


def surv_at(steps, t):
    s = steps[0][1]
    for tt, ss in steps:
        if tt <= t:
            s = ss
    return s


# ---------------- part a rows ----------------
def scatter_row(panels, st, sh, fh, bot, letter, xlab_idx):
    side = side_fig(22, st, sh, fh, bot, Y_TITLE_A, "10px", 16.7, letter, 12, 7)
    H = st + sh + fh + bot
    luad = bare(30, H, Range1d(0, 1), Range1d(*SC_YR), ml=14, mt=st + sh, mb=bot)
    luad.background_fill_color = STRIP_FILL
    luad.outline_line_color = BORDER
    add_axis(luad, "left", SC_YTICKS, "%d", "8.5px", 3, 2)
    txt(luad, 0.5, (SC_YR[0] + SC_YR[1]) / 2, "LUAD", "8.5px", color=STRIP_TXT, angle=math.pi / 2)
    kids = [side, luad]
    for i, pn in enumerate(panels):
        strip, p = panel_pair(0, 161, 7, st, sh, fh, bot, pn["xr"], SC_YR, pn["name"], "8.5px")
        add_grid(p, 0, pn["ticks"], pn["xr"])
        add_grid(p, 1, SC_YTICKS, SC_YR)
        add_axis(p, "below", pn["ticks"], pn["fmt"], "8.5px", 3, 1,
                 X_TITLE_A if i == xlab_idx else None)
        xs = [a for a, b in pn["pts"]]
        ys = [b for a, b in pn["pts"]]
        p.scatter(xs, ys, size=5.8, marker="circle", fill_color="#262626", line_color=None)
        fx = [a for a, b, c in pn["fit"]]
        fy = [b for a, b, c in pn["fit"]]
        lo = [b - c for a, b, c in pn["fit"]]
        hi = [b + c for a, b, c in pn["fit"]]
        p.varea(x=fx, y1=lo, y2=hi, fill_color="#999999", fill_alpha=0.45)
        p.line(fx, fy, line_color="#3366FF", line_width=1.8)
        txt(p, pn["xr"][1], SC_YR[1], pn["t1"], "10.5px", color=RED, align="right", xo=-2, yo=8)
        txt(p, pn["xr"][1], SC_YR[1], pn["t2"], "10.5px", color=RED, align="right", xo=-2, yo=18.5)
        kids.append(column(strip, p))
    return row(kids)


# ---------------- part b rows ----------------
def km_row(panels, st, sh, fh, bot, letter, letter_cy, xlab_idx, leg_margin):
    H = st + sh + fh + bot
    side = side_fig(21, st, sh, fh, bot, Y_TITLE_B, "9.5px", 15, letter, 12, letter_cy)
    kids = [side]
    n = len(panels)
    for i, pn in enumerate(panels):
        ml = 22 if i == 0 else 0
        mr = 0 if i == n - 1 else 5
        strip, p = panel_pair(ml, 155, mr, st, sh, fh, bot, KM_XR, KM_YR, pn["name"], "7.5px")
        add_grid(p, 0, KM_XTICKS, KM_XR)
        add_grid(p, 1, KM_YTICKS, KM_YR)
        if i == 0:
            add_axis(p, "left", KM_YTICKS, "%.2f", "7.5px", 2, 1)
        add_axis(p, "below", KM_XTICKS, "%d", "7.5px", 2, 1,
                 X_TITLE_B if i == xlab_idx else None)
        for steps, col in ((pn["hi"], RED), (pn["lo"], BLUE)):
            p.step([a for a, b in steps], [b for a, b in steps], mode="after",
                   line_color=col, line_width=1.2)
        for steps, cens in ((pn["hi"], pn["hic"]), (pn["lo"], pn["loc"])):
            p.scatter(cens, [surv_at(steps, c) for c in cens], marker="cross", size=7,
                      line_color="#5a5a5a", line_alpha=0.75, line_width=1)
        txt(p, KM_XR[1], KM_YR[1], pn["p"], "10px", align="right", xo=-6, yo=7)
        kids.append(column(strip, p))
    luad = bare(15, H, Range1d(0, 1), Range1d(*KM_YR), mt=st + sh, mb=bot)
    luad.background_fill_color = STRIP_FILL
    luad.outline_line_color = BORDER
    txt(luad, 0.5, (KM_YR[0] + KM_YR[1]) / 2, "LUAD", "7.5px", color=STRIP_TXT, angle=-math.pi / 2)
    kids.append(luad)
    lg = bare(89 + leg_margin, H, Range1d(0, 1), Range1d(0, 1), mt=st + sh, mb=bot)
    r1 = lg.line(x=[], y=[], line_color=RED, line_alpha=0.55, line_width=1.4)
    r2 = lg.line(x=[], y=[], line_color=BLUE, line_width=1.4)
    leg = Legend(items=[LegendItem(label=value(LEVELS[0]), renderers=[r1]),
                        LegendItem(label=value(LEVELS[1]), renderers=[r2])],
                 title="Level", location="center_left")
    leg.title_text_font = FONT
    leg.title_text_font_size = "9.5px"
    leg.title_text_font_style = "normal"
    leg.title_standoff = 6
    leg.label_text_font = FONT
    leg.label_text_font_size = "8px"
    leg.glyph_width = 12
    leg.glyph_height = 10
    leg.label_height = 10
    leg.label_standoff = 6
    leg.spacing = 5
    leg.padding = 0
    leg.margin = 4 + leg_margin
    leg.border_line_color = None
    leg.background_fill_alpha = 0
    lg.add_layout(leg)
    kids.append(lg)
    return row(kids)


rA1 = scatter_row(ROW_A1, 13, 16, 152, 27, "a", 3)
rA2 = scatter_row(ROW_A2, 0, 16, 150, 30, None, 2)
rB1 = km_row(ROW_B1, 18, 14, 147, 29, "b", 27, 3, 0)
rB2 = km_row(ROW_B2, 14, 15, 147, 24, None, 0, 2, 10)

p = column(rA1, rA2, rB1, rB2)
open("out.html", "w").write(file_html(p, INLINE))
